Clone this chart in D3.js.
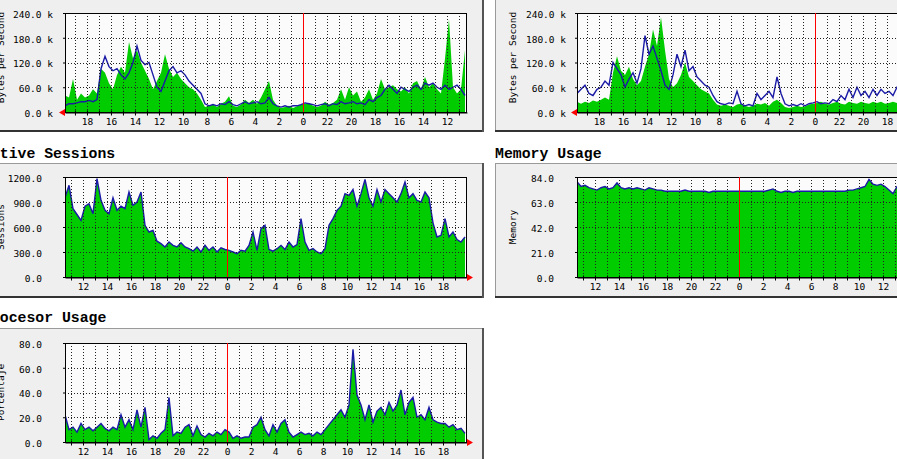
<!DOCTYPE html>
<html><head><meta charset="utf-8">
<script src="https://cdn.jsdelivr.net/npm/d3@7"></script>
<style>body{margin:0;background:#fff;overflow:hidden}</style>
</head><body>
<svg id="c" width="897" height="459"></svg>
<script>
// ---- time base (hours relative to midnight) ----
const topStartHour = 19.83;      // "now" at the left edge of the traffic graphs (time runs right-to-left)
const bottomStartHour = -13.5;   // 10:30 of the previous day at the left edge (time runs left-to-right)
const spanHours = 33.5;
const sampleStepHours = 1 / 3;   // one value every 20 minutes

// ---- series ----
const trafficAIn = [40,35,80,30,45,35,40,55,45,105,95,70,55,90,110,95,170,130,150,120,100,80,55,75,95,140,105,85,95,80,70,60,55,45,30,12,15,18,12,20,25,38,15,12,18,30,22,30,20,35,55,75,30,15,10,12,15,10,14,18,20,22,15,12,15,25,18,22,30,55,30,60,40,50,25,35,55,30,45,80,55,60,65,55,50,60,45,70,75,55,85,60,70,55,45,130,225,60,45,55,150];
const trafficAOut = [15,20,20,22,25,25,28,25,30,105,135,110,100,105,90,80,95,120,160,125,115,120,90,60,50,75,100,110,95,100,90,75,65,55,45,20,15,18,15,20,18,25,18,15,20,25,20,22,25,20,22,35,20,15,12,15,12,15,15,18,22,20,18,15,18,20,15,20,18,25,20,22,25,20,22,18,30,25,35,40,55,65,55,45,60,55,50,60,65,55,70,65,70,60,55,65,55,60,65,55,40];
const trafficBIn = [25,20,25,22,28,25,30,35,30,95,135,100,90,110,80,65,75,110,140,200,160,230,150,80,60,70,90,120,85,75,65,55,50,45,30,18,15,18,15,12,18,20,15,12,15,20,18,22,15,25,30,22,12,10,12,15,12,14,18,20,22,25,20,18,22,25,20,18,25,22,20,25,22,20,25,22,25,20,22,25,22,20];
const trafficBOut = [45,55,65,45,40,55,60,75,65,120,105,90,60,80,95,70,105,185,140,160,130,100,65,55,90,140,110,150,100,110,85,75,65,60,40,25,20,18,22,20,50,20,15,18,15,45,30,40,50,35,85,45,20,15,18,15,20,15,20,22,25,20,22,20,30,25,40,30,55,35,60,40,50,35,55,40,55,45,50,40,60,50];
const sessions = [950,1100,820,750,680,850,880,760,1180,920,800,760,950,800,850,820,1020,860,900,1020,620,540,560,430,400,360,420,380,360,410,360,340,310,360,300,380,320,360,300,350,330,320,300,280,320,310,380,540,320,580,620,330,310,340,380,330,420,360,390,700,420,320,340,300,280,340,620,700,800,850,1000,980,1050,850,1000,1170,950,850,1050,900,1050,1000,950,900,1000,1140,950,1000,920,900,1020,950,650,480,500,700,480,540,450,420,480];
const memory = [80,76,77,75,74,73,75,76,74,75,79,75,74,75,74,75,74,73,75,74,73,73,72,72,72,72,72,73,72,72,72,72,72,71,72,72,72,72,72,72,72,72,72,72,72,72,72,72,73,74,72,71,72,72,71,72,72,72,72,72,72,72,72,72,72,72,72,72,73,73,74,75,76,82,78,77,78,76,73,70,76,77];
const cpu = [22,10,12,8,15,10,12,9,12,15,11,9,12,10,22,12,18,10,26,12,28,2,5,3,7,10,36,5,8,7,12,14,5,13,6,4,7,5,8,6,10,8,3,5,3,4,4,12,14,20,10,5,14,8,15,18,8,4,6,8,6,7,5,8,6,10,14,18,22,26,20,30,75,38,30,18,30,16,25,28,22,32,25,30,42,22,32,36,20,22,18,28,18,16,15,15,12,14,10,11,7];

// ---- tick labels ----
const bytesTicks = [0, 60, 120, 180, 240];
const sessionTicks = [0, 300, 600, 900, 1200];
const memoryTicks = [0, 21, 42, 63, 84];
const cpuTicks = [0, 20, 40, 60, 80];

// ---- titles ----
const titles = [
  {text: "Active Sessions", x: -18, y: 157.5},
  {text: "Memory Usage", x: 495, y: 157.5},
  {text: "Procesor Usage", x: -18, y: 322}
];

const svg = d3.select("#c");
const GREEN = "#00cc00", BLUE = "#1a1aa6", RED = "#ff0000";

// panels
const panels = [
  {x: -10, y: -10, w: 494, h: 142},
  {x: 495, y: -10, w: 420, h: 142},
  {x: -10, y: 163, w: 494, h: 135},
  {x: 495, y: 163, w: 420, h: 135},
  {x: -10, y: 328, w: 494, h: 145}
];
panels.forEach(p => {
  const g = svg.append("g");
  g.append("rect").attr("x", p.x).attr("y", p.y).attr("width", p.w).attr("height", p.h).attr("fill", "#efefef");
  g.append("line").attr("x1", p.x).attr("x2", p.x + p.w).attr("y1", p.y + 0.5).attr("y2", p.y + 0.5).attr("stroke", "#9a9a9a");
  g.append("line").attr("x1", p.x + 0.5).attr("x2", p.x + 0.5).attr("y1", p.y).attr("y2", p.y + p.h).attr("stroke", "#9a9a9a");
  g.append("line").attr("x1", p.x).attr("x2", p.x + p.w).attr("y1", p.y + p.h - 1).attr("y2", p.y + p.h - 1).attr("stroke", "#333").attr("stroke-width", 2);
  g.append("line").attr("x1", p.x + p.w - 1).attr("x2", p.x + p.w - 1).attr("y1", p.y).attr("y2", p.y + p.h).attr("stroke", "#555").attr("stroke-width", 2);
});

titles.forEach(t => {
  svg.append("text").attr("x", t.x).attr("y", t.y).text(t.text)
    .attr("font-family", "Liberation Mono, DejaVu Sans Mono, monospace")
    .attr("font-weight", "bold").attr("font-size", "14.8px").attr("fill", "#000");
});

const W = 402;
const charts = [
  {id: "a", left: 65, top: 13, h: 99, dir: -1, start: topStartHour, fill: trafficAIn, line: trafficAOut, ticks: bytesTicks, unit: " k", gap: 12, ytitle: "Bytes per Second", tdy: -5},
  {id: "b", left: 577, top: 13, h: 99, dir: -1, start: topStartHour, fill: trafficBIn, line: trafficBOut, ticks: bytesTicks, unit: " k", gap: 11, ytitle: "Bytes per Second", tdy: -5},
  {id: "c", left: 65, top: 177, h: 100, dir: 1, start: bottomStartHour, fill: sessions, line: sessions, ticks: sessionTicks, unit: "", gap: 23, ytitle: "Sessions", tdy: 0},
  {id: "d", left: 577, top: 177, h: 100, dir: 1, start: bottomStartHour, fill: memory, line: memory, ticks: memoryTicks, unit: "", gap: 23, ytitle: "Memory", tdy: 0},
  {id: "e", left: 65, top: 343, h: 99, dir: 1, start: bottomStartHour, fill: cpu, line: cpu, ticks: cpuTicks, unit: "", gap: 23, ytitle: "Porcentaje", tdy: 0}
];

const defs = svg.append("defs");
const monoFont = "DejaVu Sans Mono, monospace";

charts.forEach(c => {
  const x = d3.scaleLinear().domain([c.start, c.start + c.dir * spanHours]).range([c.left, c.left + W]);
  const y = d3.scaleLinear().domain([0, d3.max(c.ticks)]).range([c.top + c.h, c.top]);
  const tAt = i => c.start + c.dir * i * sampleStepHours;
  const bottom = c.top + c.h, right = c.left + W;

  defs.append("clipPath").attr("id", "clip" + c.id).append("rect")
    .attr("x", c.left).attr("y", c.top).attr("width", W).attr("height", c.h);

  const g = svg.append("g");
  g.append("rect").attr("x", c.left).attr("y", c.top).attr("width", W).attr("height", c.h).attr("fill", "#fbfbfb");

  const plot = g.append("g").attr("clip-path", `url(#clip${c.id})`);
  plot.append("path").datum(c.fill)
    .attr("d", d3.area().x((d, i) => x(tAt(i))).y0(y(0)).y1(d => y(d)))
    .attr("fill", GREEN);
  plot.append("path").datum(c.line)
    .attr("d", d3.line().x((d, i) => x(tAt(i))).y(d => y(d)))
    .attr("fill", "none").attr("stroke", BLUE).attr("stroke-width", 1.4);

  // grid
  const dom = x.domain();
  const lo = Math.min(dom[0], dom[1]), hi = Math.max(dom[0], dom[1]);
  const hours = d3.range(Math.ceil(lo), Math.floor(hi) + 1).filter(hh => hh > lo + 0.01 && hh < hi - 0.01);
  const grid = g.append("g").attr("stroke", "#222").attr("stroke-dasharray", "1,2").attr("stroke-width", 1);
  hours.filter(hh => hh !== 0).forEach(hh => {
    const xx = Math.round(x(hh)) + 0.5;
    grid.append("line").attr("x1", xx).attr("x2", xx).attr("y1", c.top).attr("y2", bottom);
  });
  c.ticks.filter(v => v > 0).forEach(v => {
    const yy = Math.round(y(v)) + 0.5;
    grid.append("line").attr("x1", c.left).attr("x2", right).attr("y1", yy).attr("y2", yy);
  });

  // frame
  g.append("rect").attr("x", c.left + 0.5).attr("y", c.top + 0.5).attr("width", W - 1).attr("height", c.h)
    .attr("fill", "none").attr("stroke", "#000");

  // axes
  const xa = g.append("g").attr("transform", `translate(0,${bottom + 0.5})`)
    .call(d3.axisBottom(x).tickValues(hours).tickSize(3).tickSizeOuter(0).tickPadding(2.8)
      .tickFormat(hh => (hh % 2 === 0 ? String(((hh % 24) + 24) % 24) : "")));
  xa.select(".domain").attr("stroke", "#000");
  xa.selectAll(".tick line").attr("stroke", "#000").attr("y1", -2);
  xa.selectAll("text").attr("font-family", monoFont).attr("font-size", "9.5px").attr("fill", "#000");

  const ya = g.append("g").attr("transform", `translate(${c.left},0)`)
    .call(d3.axisLeft(y).tickValues(c.ticks).tickSize(2).tickPadding(c.gap - 2)
      .tickFormat(v => v.toFixed(1) + c.unit));
  ya.select(".domain").remove();
  ya.selectAll(".tick line").attr("stroke", "#000");
  ya.selectAll("text").attr("font-family", monoFont).attr("font-size", "9.5px").attr("fill", "#000").attr("dy", "0.45em");

  // midnight marker (drawn on top)
  const mx = Math.round(x(0)) + 0.5;
  g.append("line").attr("x1", mx).attr("x2", mx).attr("y1", c.top).attr("y2", bottom).attr("stroke", RED).attr("stroke-width", 1);

  // red arrow at the "now" end of the time axis
  const ax = c.dir < 0 ? c.left : right, s = c.dir < 0 ? -1 : 1;
  g.append("path")
    .attr("d", `M${ax},${bottom - 3}L${ax + s * 6},${bottom + 0.5}L${ax},${bottom + 4}Z`)
    .attr("fill", RED);

  // y title
  g.append("text").text(c.ytitle)
    .attr("transform", `translate(${c.left - 61},${c.top + c.h / 2 + c.tdy}) rotate(-90)`)
    .attr("text-anchor", "middle")
    .attr("font-family", monoFont).attr("font-size", "9.5px").attr("fill", "#000");
});
</script>
</body></html>
